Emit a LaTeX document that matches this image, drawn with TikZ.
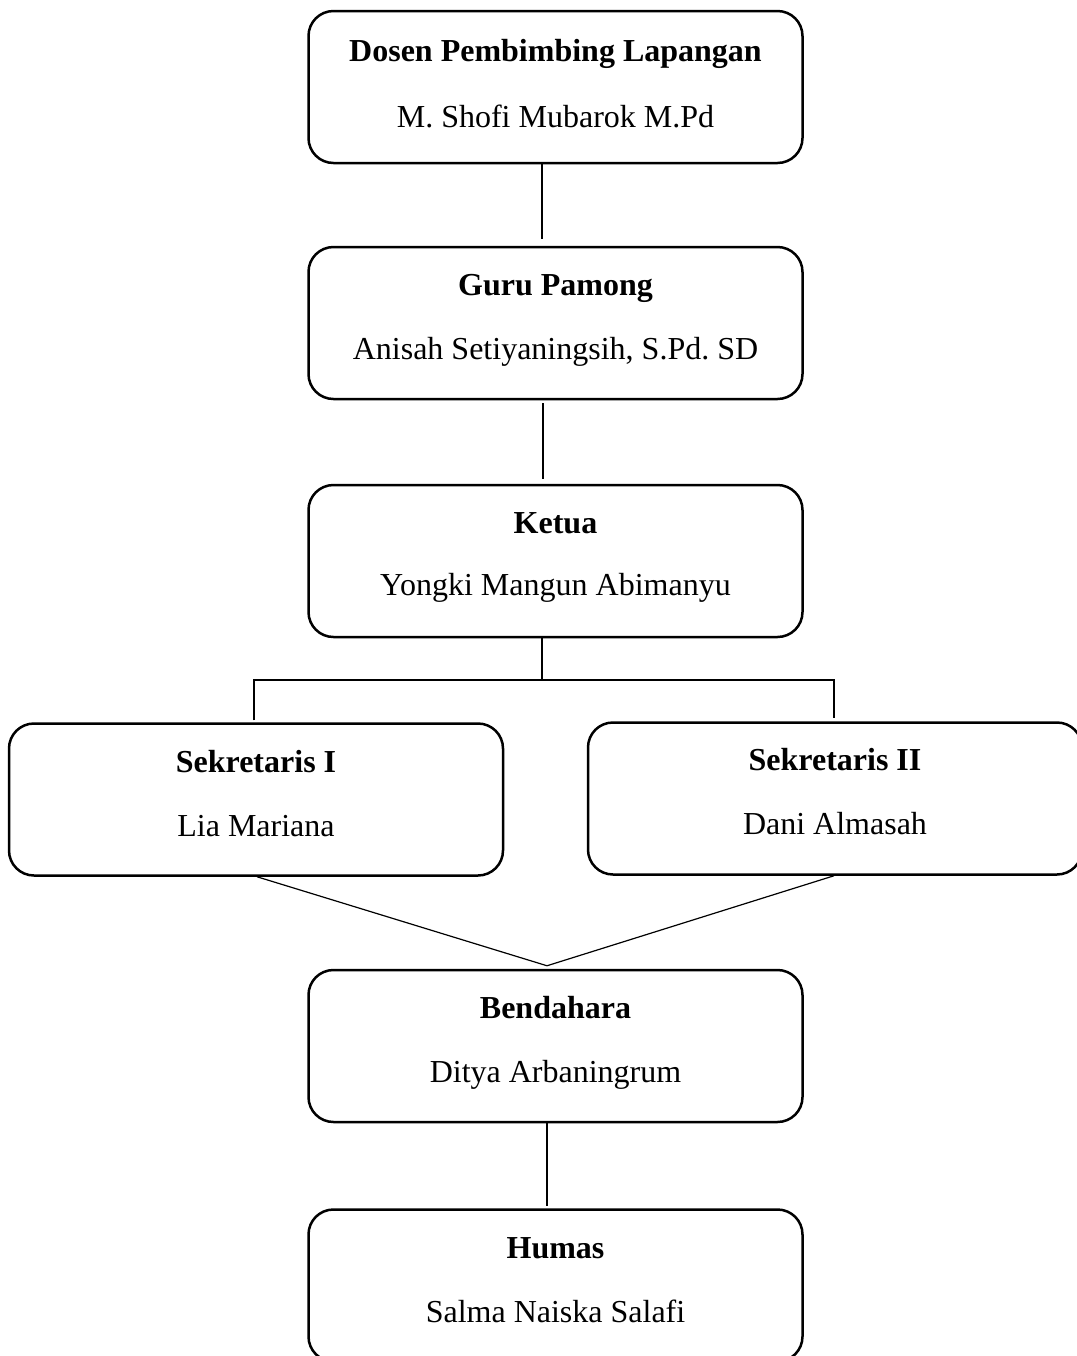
\documentclass[tikz,border=0pt]{standalone}
\usepackage{fontspec}
\setmainfont{Liberation Serif}
\usepackage{tikz}
\usetikzlibrary{positioning}
\frenchspacing
\tikzstyle{orgbox}=[shape=rectangle,draw=black,line width=1.25pt,rounded corners=12.5pt,minimum width=247pt,minimum height=76pt,inner sep=0pt]
\tikzstyle{jabatan}=[anchor=base,inner sep=0pt,font=\fontsize{16}{19}\selectfont\bfseries]
\tikzstyle{nama}=[anchor=base,inner sep=0pt,font=\fontsize{16}{19}\selectfont]
\tikzstyle{link}=[line width=0.6pt]

\begin{document}
\begin{tikzpicture}[x=0.5pt,y=-0.5pt]
\useasboundingbox (0,0) rectangle (1077,1356);
% boxes
\node[orgbox] (dosen) at (555.5,87) {};
\node[orgbox] (guru) at (555.5,323) {};
\node[orgbox] (ketua) at (555.5,561) {};
\node[orgbox] (sek1) at (256,799.5) {};
\node[orgbox] (sek2) at (835,798.5) {};
\node[orgbox] (bend) at (555.5,1046) {};
\node[orgbox] (humas) at (555.5,1285.5) {};
% texts
\node[jabatan] (dosen_t) at (555.5,61.5) {Dosen Pembimbing Lapangan};
\node[nama] (dosen_n) at (555.5,127.5) {M. Shofi Mubarok M.Pd};
\node[jabatan] (guru_t) at (555.5,295.5) {Guru Pamong};
\node[nama] (guru_n) at (555.5,359.5) {Anisah Setiyaningsih, S.Pd. SD};
\node[jabatan] (ketua_t) at (555.5,533) {Ketua};
\node[nama] (ketua_n) at (555.5,595.5) {Yongki Mangun Abimanyu};
\node[jabatan] (sek1_t) at (256,772) {Sekretaris I};
\node[nama] (sek1_n) at (256,836) {Lia Mariana};
\node[jabatan] (sek2_t) at (835,770) {Sekretaris II};
\node[nama] (sek2_n) at (835,834) {Dani Almasah};
\node[jabatan] (bend_t) at (555.5,1018.5) {Bendahara};
\node[nama] (bend_n) at (555.5,1082.5) {Ditya Arbaningrum};
\node[jabatan] (humas_t) at (555.5,1258) {Humas};
\node[nama] (humas_n) at (555.5,1322) {Salma Naiska Salafi};
% connectors
\coordinate (split) at (542,680);
\coordinate (join) at ([xshift=-4.25pt,yshift=1.5pt]bend.north);
\draw[link,shorten >=3.5pt] ([xshift=-6.75pt]dosen.south) -- ([xshift=-6.75pt]guru.north);
\draw[link,shorten <=1.5pt,shorten >=2.5pt] ([xshift=-6.25pt]guru.south) -- ([xshift=-6.25pt]ketua.north);
\draw[link] ([xshift=-6.75pt]ketua.south) -- (split);
\draw[link] ([xshift=-1pt,yshift=1pt]sek1.north) |- (split) -| ([xshift=-0.5pt,yshift=1.5pt]sek2.north);
\draw[link] ([xshift=0.5pt]sek1.south) -- (join);
\draw[link] ([xshift=-0.5pt]sek2.south) -- (join);
\draw[link,shorten >=1pt] ([xshift=-4.25pt]bend.south) -- ([xshift=-4.25pt]humas.north);
\end{tikzpicture}
\end{document}
